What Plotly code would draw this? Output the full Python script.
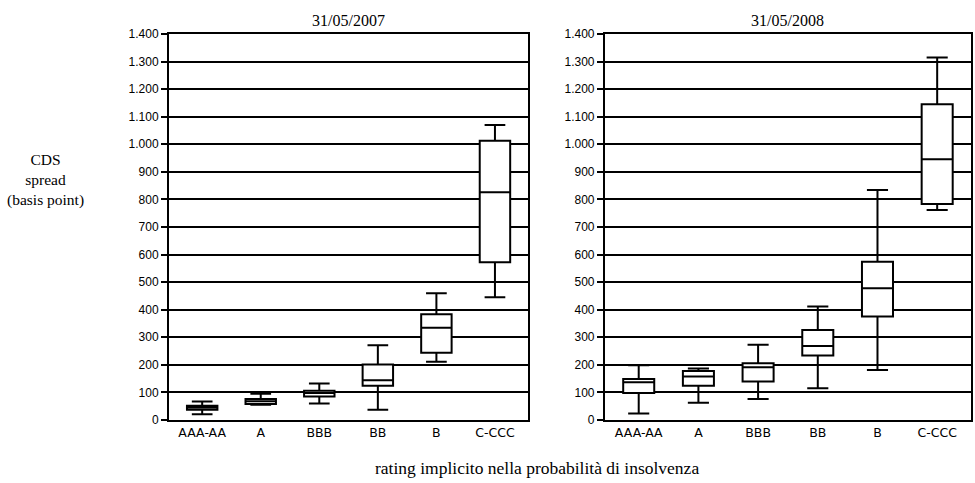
import plotly.graph_objects as go

categories = ["AAA-AA", "A", "BBB", "BB", "B", "C-CCC"]

# 31/05/2007
lo_2007 = [21, 55, 60, 37, 211, 445]
q1_2007 = [37, 58, 85, 124, 244, 572]
med_2007 = [45, 68, 98, 144, 335, 826]
q3_2007 = [52, 76, 106, 201, 384, 1013]
hi_2007 = [67, 95, 132, 271, 460, 1070]

# 31/05/2008
lo_2008 = [24, 63, 76, 115, 181, 762]
q1_2008 = [98, 124, 140, 234, 375, 783]
med_2008 = [137, 158, 191, 268, 478, 946]
q3_2008 = [149, 178, 206, 326, 574, 1145]
hi_2008 = [199, 187, 273, 412, 834, 1315]

titles = ["31/05/2007", "31/05/2008"]
y_title_lines = ["CDS", "spread", "(basis point)"]
x_title = "rating implicito nella probabilità di insolvenza"
y_ticks = list(range(0, 1401, 100))

fig = go.Figure()
panels = [
    (lo_2007, q1_2007, med_2007, q3_2007, hi_2007, "x", "y"),
    (lo_2008, q1_2008, med_2008, q3_2008, hi_2008, "x2", "y2"),
]
for lo, q1, med, q3, hi, xa, ya in panels:
    fig.add_trace(go.Box(
        x=categories, q1=q1, median=med, q3=q3,
        lowerfence=lo, upperfence=hi,
        xaxis=xa, yaxis=ya,
        fillcolor="white", line=dict(color="black", width=2),
        width=0.52, whiskerwidth=0.68, boxpoints=False,
        showlegend=False, hoverinfo="skip",
    ))

axis_x = dict(
    type="category", categoryorder="array", categoryarray=categories,
    showline=True, linecolor="black", linewidth=2, mirror=True,
    ticks="", showgrid=False,
    tickfont=dict(family="DejaVu Sans", size=12.5, color="black"),
)
axis_y = dict(
    range=[0, 1400], tickvals=y_ticks, tickformat=",d", separatethousands=True,
    showline=True, linecolor="black", linewidth=2, mirror=True,
    ticks="outside", ticklen=6, tickcolor="black", tickwidth=1.5,
    showgrid=True, gridcolor="black", gridwidth=1.5, zeroline=False,
    tickfont=dict(family="Liberation Sans", size=12, color="black"),
)

plot_w = 975 - 169 - 2
plot_h = 483 - 34 - 63
serif = "Liberation Serif"


def px_x(px):
    return (px - 169) / plot_w


def px_y(py):
    return (483 - 63 - py) / plot_h


annotations = [
    dict(text=titles[0], x=0.2239, y=1, xref="paper", yref="paper",
         xanchor="center", yanchor="bottom", yshift=3, showarrow=False,
         font=dict(family=serif, size=16, color="black")),
    dict(text=titles[1], x=0.7717, y=1, xref="paper", yref="paper",
         xanchor="center", yanchor="bottom", yshift=3, showarrow=False,
         font=dict(family=serif, size=16, color="black")),
    dict(text=x_title, x=px_x(538), y=px_y(468),
         xref="paper", yref="paper",
         xanchor="center", yanchor="middle", showarrow=False,
         font=dict(family=serif, size=17.5, color="black")),
    dict(text="<br>".join(y_title_lines), x=px_x(45), y=px_y(180),
         xref="paper", yref="paper", xanchor="center", yanchor="middle",
         showarrow=False, font=dict(family=serif, size=15.5, color="black")),
]

fig.update_layout(
    width=975, height=483,
    margin=dict(l=169, r=2, t=34, b=63),
    paper_bgcolor="white", plot_bgcolor="white",
    separators=",.",
    xaxis=dict(domain=[0, 0.4478], anchor="y", **axis_x),
    yaxis=dict(domain=[0, 1], anchor="x", **axis_y),
    xaxis2=dict(domain=[0.5435, 1], anchor="y2", **axis_x),
    yaxis2=dict(domain=[0, 1], anchor="x2", **axis_y),
    annotations=annotations,
)

fig.write_html("out.html")
